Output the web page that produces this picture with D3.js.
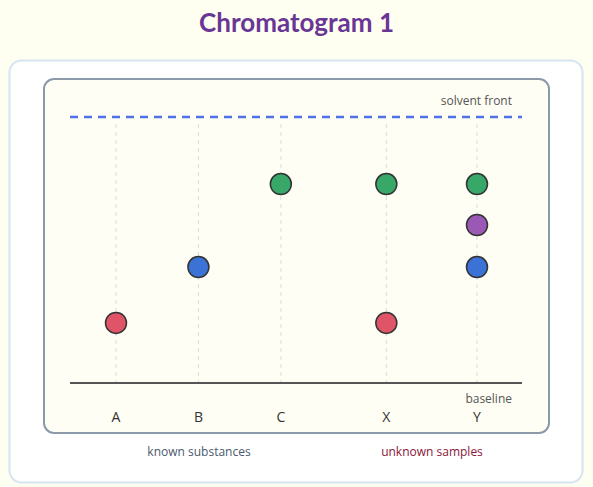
<!DOCTYPE html>
<html><head><meta charset="utf-8">
<script src="https://cdn.jsdelivr.net/npm/d3@7/dist/d3.min.js"></script>
<style>body{margin:0;background:#fefff0;font-family:"Open Sans",sans-serif}</style>
</head><body>
<script>
const lanes = ["A","B","C","X","Y"];
const laneX = [0,1,2,3.28,4.38];
const spotLane = ["A","B","C","X","X","Y","Y","Y"];
const spotRf = [0.226,0.436,0.748,0.748,0.226,0.748,0.594,0.436];
const spotColor = ["#e05468","#3b72d6","#38a869","#38a869","#e05468","#38a869","#9b59b6","#3b72d6"];
const groupLabels = ["known substances","unknown samples"];

const W=593,H=487;
const svg=d3.select("body").append("svg").attr("width",W).attr("height",H);
svg.append("rect").attr("width",W).attr("height",H).attr("fill","#fefff0");
svg.append("text").attr("x",W/2).attr("y",32).attr("text-anchor","middle").attr("font-size",26).attr("font-weight","bold").attr("fill","#6a3696").attr("font-family","Lato, sans-serif").text("Chromatogram 1");
svg.append("rect").attr("x",9.5).attr("y",60.5).attr("width",573).attr("height",422).attr("rx",12).attr("fill","#fff").attr("stroke","#d6e4f0").attr("stroke-width",2);
svg.append("rect").attr("x",44).attr("y",79).attr("width",505).attr("height",354).attr("rx",10).attr("fill","#fefef4").attr("stroke","#8a9aa8").attr("stroke-width",2);

const x=d3.scaleLinear().domain([0,4.38]).range([116,477]);
const y=d3.scaleLinear().domain([0,1]).range([383,117]);
const lx=d=>x(laneX[lanes.indexOf(d)]);

svg.selectAll(".lane").data(lanes).join("line").attr("x1",lx).attr("x2",lx).attr("y1",124).attr("y2",383).attr("stroke","#d5dde5").attr("stroke-dasharray","4,4");
svg.append("line").attr("x1",70).attr("x2",522).attr("y1",y(1)).attr("y2",y(1)).attr("stroke","#4f72e8").attr("stroke-width",2.5).attr("stroke-dasharray","8,6");
svg.append("text").attr("x",512).attr("y",105).attr("text-anchor","end").attr("font-size",12).attr("fill","#555").text("solvent front");
svg.append("line").attr("x1",70).attr("x2",522).attr("y1",y(0)).attr("y2",y(0)).attr("stroke","#555").attr("stroke-width",2);
svg.append("text").attr("x",512).attr("y",403).attr("text-anchor","end").attr("font-size",12).attr("fill","#555").text("baseline");
svg.selectAll(".lbl").data(lanes).join("text").attr("x",lx).attr("y",422).attr("text-anchor","middle").attr("font-size",14).attr("fill","#333").text(d=>d);
svg.selectAll(".spot").data(spotRf).join("circle").attr("cx",(d,i)=>lx(spotLane[i])).attr("cy",d=>y(d)).attr("r",10.5).attr("fill",(d,i)=>spotColor[i]).attr("stroke","#333").attr("stroke-width",1.5);
svg.append("text").attr("x",199).attr("y",456).attr("text-anchor","middle").attr("font-size",12).attr("fill","#4a5a6e").text(groupLabels[0]);
svg.append("text").attr("x",432).attr("y",456).attr("text-anchor","middle").attr("font-size",12).attr("fill","#8b1538").text(groupLabels[1]);
</script>
</body></html>
